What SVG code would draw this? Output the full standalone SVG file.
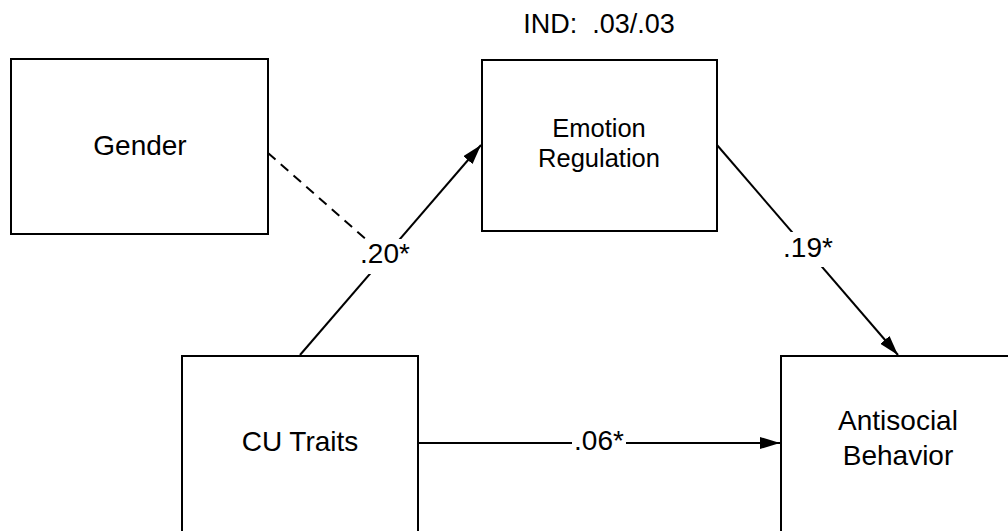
<svg xmlns="http://www.w3.org/2000/svg" width="1008" height="531" viewBox="0 0 1008 531">
  <style>
    .box { fill: #ffffff; stroke: #000000; stroke-width: 2; }
    .lbl { font-family: "Liberation Sans", Arial, sans-serif; fill: #000000; text-anchor: middle; }
    .edge { stroke: #000000; stroke-width: 2; fill: none; }
    .dash { stroke-dasharray: 10 7; }
    .bg { fill: #ffffff; }
  </style>
  <defs>
    <marker id="arrow" viewBox="0 0 20 12" refX="20" refY="6" markerWidth="20" markerHeight="12" markerUnits="userSpaceOnUse" orient="auto">
      <polygon points="0,0 20,6 0,12" fill="#000000"/>
    </marker>
  </defs>

  <rect width="1008" height="531" fill="#ffffff"/>

  <!-- indirect effect note -->
  <text class="lbl" x="599" y="33" font-size="27">IND:&#160; .03/.03</text>

  <!-- connectors -->
  <g id="connectors">
    <line class="edge dash" x1="268" y1="153" x2="385" y2="256"/>
    <line class="edge" x1="300" y1="355" x2="481" y2="145" marker-end="url(#arrow)"/>
    <line class="edge" x1="717" y1="145" x2="898" y2="355" marker-end="url(#arrow)"/>
    <line class="edge" x1="418" y1="443" x2="780" y2="443" marker-end="url(#arrow)"/>

    <g id="label-cu-er">
      <rect class="bg" x="360" y="239" width="50" height="35"/>
      <text class="lbl" x="385" y="263" font-size="28">.20*</text>
    </g>
    <g id="label-er-ab">
      <rect class="bg" x="782" y="232" width="52" height="35"/>
      <text class="lbl" x="808" y="257" font-size="28">.19*</text>
    </g>
    <g id="label-cu-ab">
      <rect class="bg" x="572" y="426" width="54" height="34"/>
      <text class="lbl" x="599" y="450" font-size="28">.06*</text>
    </g>
  </g>

  <!-- nodes -->
  <g id="gender">
    <rect class="box" x="11" y="59" width="257" height="175"/>
    <text class="lbl" x="140" y="155" font-size="28">Gender</text>
  </g>
  <g id="emotion-regulation">
    <rect class="box" x="482" y="60" width="235" height="171"/>
    <text class="lbl" x="599" y="137" font-size="25.5">Emotion</text>
    <text class="lbl" x="599" y="167" font-size="25.5">Regulation</text>
  </g>
  <g id="cu-traits">
    <rect class="box" x="182" y="356" width="236" height="185"/>
    <text class="lbl" x="300" y="451" font-size="28">CU Traits</text>
  </g>
  <g id="antisocial-behavior">
    <rect class="box" x="781" y="356" width="236" height="185"/>
    <text class="lbl" x="898" y="430" font-size="28">Antisocial</text>
    <text class="lbl" x="898" y="465" font-size="28">Behavior</text>
  </g>
</svg>
